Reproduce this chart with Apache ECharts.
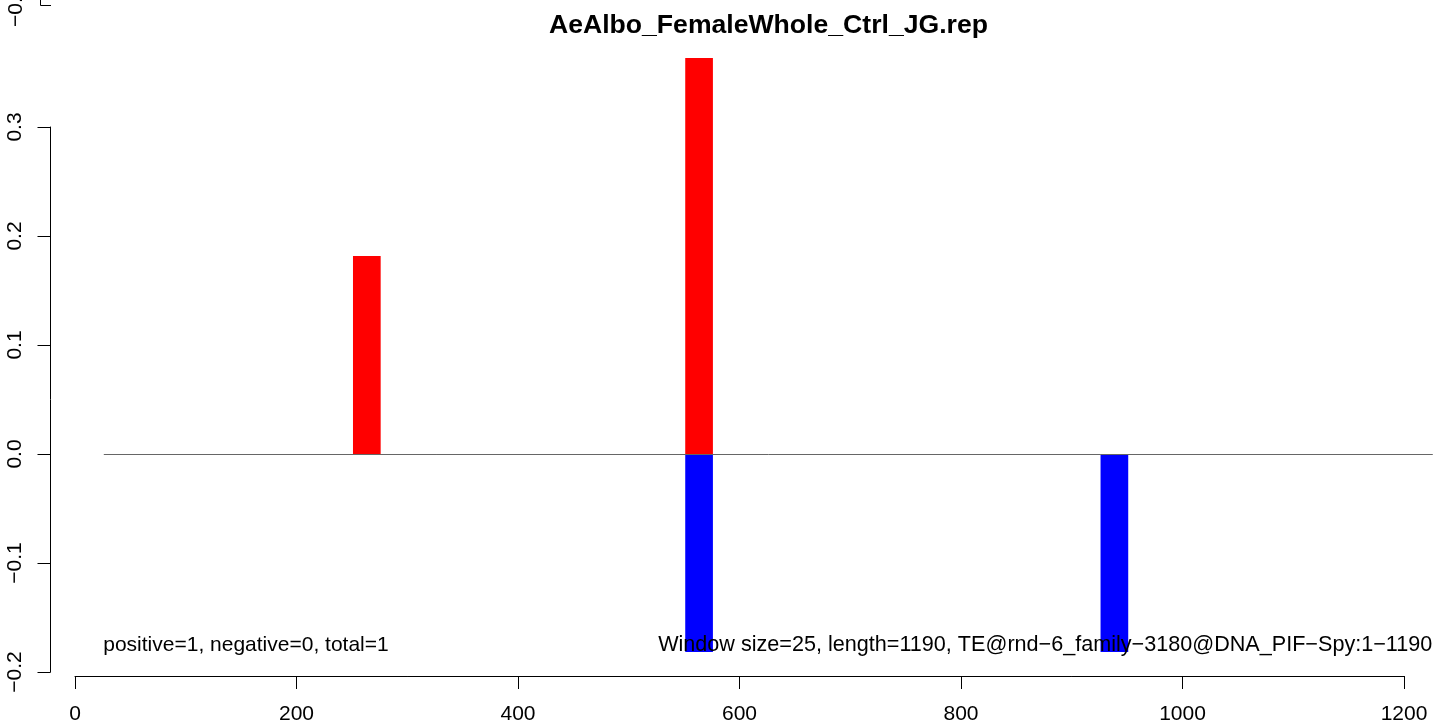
<!DOCTYPE html>
<html>
<head>
<meta charset="utf-8">
<script src="https://cdn.jsdelivr.net/npm/echarts@6/dist/echarts.min.js"></script>
<style>
html,body{margin:0;padding:0;background:#fff;overflow:hidden;width:1433px;height:725px;}
#chart{width:1433px;height:725px;}
</style>
</head>
<body>
<div id="chart"></div>
<script>
// ---- data ----
const titleText = "AeAlbo_FemaleWhole_Ctrl_JG.rep";
const windowSize = 25;
const posStarts = [251, 551];
const posValues = [0.1816, 0.3632];
const negStarts = [551, 926];
const negValues = [-0.1816, -0.1816];
const zeroLineX = [26, 1226];
const leftNote = "positive=1, negative=0, total=1";
const rightNote = "Window size=25, length=1190, TE@rnd\u22126_family\u22123180@DNA_PIF\u2212Spy:1\u22121190";
const xTicks = [0, 200, 400, 600, 800, 1000, 1200];
const yTicks = [-0.2, -0.1, 0.0, 0.1, 0.2, 0.3];

const FONT = '"Liberation Sans", Arial, Helvetica, sans-serif';

function rectSeries(starts, values, color) {
  return {
    type: 'custom',
    data: starts.map((s, i) => [s, values[i]]),
    clip: false,
    z: 2,
    renderItem: function (params, api) {
      const s = api.value(0), v = api.value(1);
      const p0 = api.coord([s, 0]);
      const p1 = api.coord([s + windowSize, v]);
      return {
        type: 'rect',
        shape: {
          x: p0[0], y: Math.min(p0[1], p1[1]),
          width: p1[0] - p0[0], height: Math.abs(p1[1] - p0[1])
        },
        style: { fill: color }
      };
    }
  };
}

function fmtY(v) {
  const r = Math.round(v * 10) / 10;
  const s = Math.abs(r).toFixed(1);
  return r < 0 ? '\u2212' + s : s;
}

const chart = echarts.init(document.getElementById('chart'), null, { renderer: 'canvas' });
chart.setOption({
  animation: false,
  backgroundColor: '#ffffff',
  textStyle: { fontFamily: FONT },
  title: {
    text: titleText,
    left: 544,
    top: 7,
    textStyle: { fontFamily: FONT, fontWeight: 'bold', fontSize: 26.6, color: '#000' }
  },
  grid: { left: 75, right: 29, top: 127, bottom: 50, containLabel: false },
  xAxis: {
    type: 'value',
    min: xTicks[0], max: xTicks[xTicks.length - 1], interval: 200,
    offset: 4,
    axisLine: { show: true, onZero: false, lineStyle: { color: '#000', width: 1 } },
    axisTick: { show: true, length: 13, lineStyle: { color: '#000', width: 1 } },
    axisLabel: { margin: 28, fontSize: 21, color: '#000', fontFamily: FONT,
                 formatter: function (v) { return String(v); } },
    splitLine: { show: false }
  },
  yAxis: {
    type: 'value',
    min: yTicks[0], max: yTicks[yTicks.length - 1], interval: 0.1,
    offset: 24.5,
    axisLine: { show: true, onZero: false, lineStyle: { color: '#000', width: 1 } },
    axisTick: { show: true, length: 13, lineStyle: { color: '#000', width: 1 } },
    axisLabel: { margin: 25, rotate: 90, fontSize: 21, color: '#000', fontFamily: FONT, formatter: fmtY },
    splitLine: { show: false }
  },
  series: [
    rectSeries(posStarts, posValues, '#ff0000'),
    rectSeries(negStarts, negValues, '#0000ff'),
    {
      type: 'custom',
      clip: false,
      z: 5,
      data: [[zeroLineX[0], zeroLineX[1]]],
      renderItem: function (params, api) {
        const a = api.coord([api.value(0), 0]);
        const b = api.coord([api.value(1), 0]);
        const y = Math.floor(a[1]) + 0.5;
        return {
          type: 'line',
          shape: { x1: a[0], y1: y, x2: b[0], y2: y },
          style: { stroke: '#666666', lineWidth: 1 }
        };
      }
    },
    {
      type: 'scatter',
      clip: false,
      symbolSize: 0,
      itemStyle: { opacity: 1 },
      data: [[25.5, -0.1754]],
      label: { show: true, position: 'right', distance: 0, formatter: leftNote,
               fontSize: 21, color: '#000', fontFamily: FONT }
    },
    {
      type: 'scatter',
      clip: false,
      symbolSize: 0,
      itemStyle: { opacity: 1 },
      data: [[1225.5, -0.1754]],
      label: { show: true, position: 'left', distance: 0, formatter: rightNote,
               fontSize: 21.6, color: '#000', fontFamily: FONT }
    }
  ],
  graphic: [
    {
      type: 'text',
      x: 16, y: 27,
      rotation: Math.PI / 2,
      style: { text: '\u22120.4', fontSize: 21, fontFamily: FONT, fill: '#000',
               textAlign: 'left', textVerticalAlign: 'middle' }
    },
    {
      type: 'polyline',
      shape: { points: [[40.5, 0], [40.5, 5.5], [51, 5.5]] },
      style: { stroke: '#000', lineWidth: 1, fill: null }
    }
  ]
});
</script>
</body>
</html>
